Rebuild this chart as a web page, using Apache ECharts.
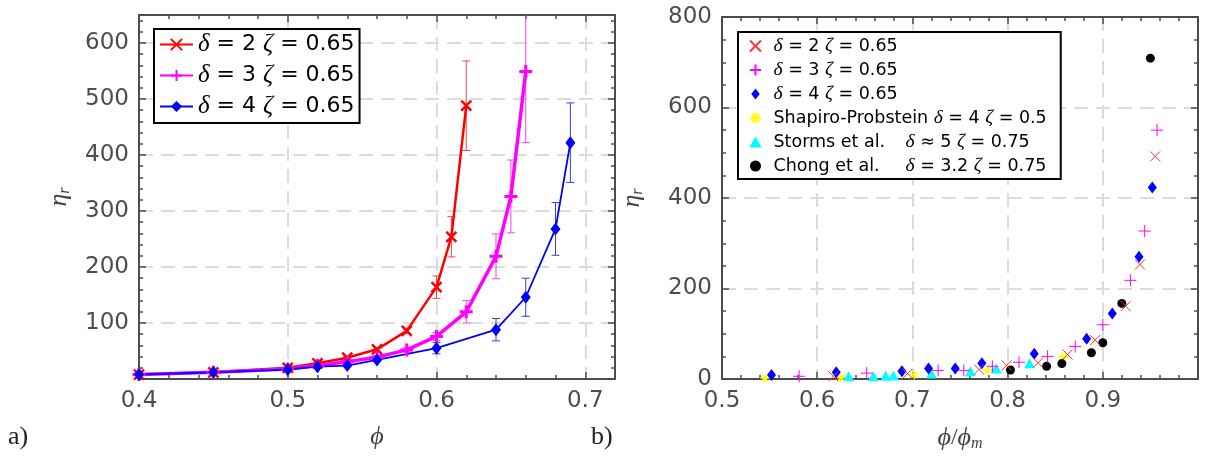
<!DOCTYPE html>
<html><head><meta charset="utf-8">
<script src="https://cdn.jsdelivr.net/npm/echarts@6/dist/echarts.min.js"></script>
<style>html,body{margin:0;padding:0;background:#fff}#c{width:1205px;height:458px}</style>
</head><body><div id="c"></div>
<script>
// ---------- Panel a) data : eta_r vs phi ----------
const phiA2 = [0.40, 0.45, 0.50, 0.52, 0.54, 0.56, 0.58, 0.60, 0.61, 0.62];
const etaA2 = [8, 12, 20, 28, 38, 53, 86, 164, 254, 488];
const errA2 = [0, 0, 1, 1, 2, 3, 5, 20, 36, 80];

const phiA3 = [0.40, 0.45, 0.50, 0.52, 0.54, 0.56, 0.58, 0.60, 0.62, 0.64, 0.65, 0.66];
const etaA3 = [8, 12, 18, 24, 31, 39, 52, 76, 120, 219, 326, 549];
const errA3 = [0, 0, 1, 1, 2, 3, 4, 7, 20, 40, 65, 127];

const phiA4 = [0.40, 0.45, 0.50, 0.52, 0.54, 0.56, 0.60, 0.64, 0.66, 0.68, 0.69];
const etaA4 = [8, 12, 17, 22, 24, 34, 55, 88, 146, 268, 422];
const errA4 = [0, 0, 1, 1, 2, 3, 10, 20, 34, 47, 71];

// ---------- Panel b) data : eta_r vs phi/phi_m ----------
const xB2 = [0.617, 0.695, 0.770, 0.799, 0.832, 0.863, 0.892, 0.924, 0.939, 0.955];
const yB2 = [6, 12, 21, 30, 36, 54, 86, 161, 253, 492];
const xB3 = [0.581, 0.652, 0.727, 0.754, 0.784, 0.812, 0.842, 0.871, 0.900, 0.929, 0.944, 0.957];
const yB3 = [6, 13, 19, 19, 28, 37, 50, 72, 120, 218, 327, 550];
const xB4 = [0.552, 0.620, 0.689, 0.717, 0.745, 0.773, 0.828, 0.883, 0.910, 0.938, 0.952];
const yB4 = [9, 15, 17, 23, 23, 35, 56, 89, 145, 270, 423];
const xSP = [0.545, 0.625, 0.702, 0.779, 0.858];
const ySP = [2, 3, 9, 19, 49];
const xST = [0.633, 0.659, 0.672, 0.680, 0.720, 0.761, 0.788, 0.823];
const yST = [6, 6, 7, 8, 12, 17, 23, 35];
const xCH = [0.803, 0.841, 0.857, 0.888, 0.900, 0.920, 0.950];
const yCH = [20, 28, 34, 58, 80, 167, 709];

// ---------- texts ----------
const legendText = {
  A2: '{g|δ} = 2 {g|ζ} = 0.65',
  A3: '{g|δ} = 3 {g|ζ} = 0.65',
  A4: '{g|δ} = 4 {g|ζ} = 0.65',
  B2: '{g|δ} = 2 {g|ζ} = 0.65',
  B3: '{g|δ} = 3 {g|ζ} = 0.65',
  B4: '{g|δ} = 4 {g|ζ} = 0.65',
  SP: 'Shapiro-Probstein {g|δ} = 4 {g|ζ} = 0.5',
  ST: '{a|Storms et al.}{g|δ} ≈ 5 {g|ζ} = 0.75',
  CH: '{a|Chong et al.}{g|δ} = 3.2 {g|ζ} = 0.75'
};

const AX = '#4d4d4d';
const GRIDC = '#dcdcdc';
const pairs = (xs, ys) => xs.map((x, i) => [x, ys[i]]);

function axisSet(dim, gi, min, max, major, minor, opts) {
  const pos = dim === 'x' ? ['bottom', 'top'] : ['left', 'right'];
  const common = { type: 'value', gridIndex: gi, min: min, max: max };
  const line = { show: true, onZero: false, lineStyle: { color: AX, width: 2 } };
  const noLine = { show: false, onZero: false };
  const tMaj = { show: true, inside: true, length: 7, lineStyle: { color: AX, width: 1.5 } };
  const tMin = { show: true, inside: true, length: 4, lineStyle: { color: AX, width: 1.5 } };
  const off = { show: false };
  return [
    Object.assign({}, common, {
      position: pos[0], interval: major, axisLine: line, axisTick: tMaj,
      axisLabel: Object.assign({ show: true, color: AX, fontFamily: 'DejaVu Sans', fontSize: 23, margin: dim === 'x' ? 11 : 10 }, opts.label),
      splitLine: { show: true, lineStyle: { color: GRIDC, width: 2, type: [14, 8] } },
      name: opts.name, nameLocation: 'middle', nameGap: opts.nameGap, nameTextStyle: opts.nameStyle
    }),
    Object.assign({}, common, { position: pos[0], interval: minor, axisLine: noLine, axisTick: tMin, axisLabel: off, splitLine: off }),
    Object.assign({}, common, { position: pos[1], interval: major, axisLine: line, axisTick: tMaj, axisLabel: off, splitLine: off }),
    Object.assign({}, common, { position: pos[1], interval: minor, axisLine: noLine, axisTick: tMin, axisLabel: off, splitLine: off })
  ];
}

const serifRich = {
  e: { fontFamily: 'Liberation Serif', fontStyle: 'italic', fontSize: 26, color: '#444' },
  s: { fontFamily: 'Liberation Serif', fontStyle: 'italic', fontSize: 16, color: '#444', padding: [12, 0, 0, 0] },
  n: { fontFamily: 'Liberation Serif', fontSize: 24, color: '#444' }
};
const nameStyle = { rich: serifRich };

const xAxes = [].concat(
  axisSet('x', 0, 0.4, 0.72, 0.1, 0.02, { label: { showMaxLabel: false }, name: '{e|ϕ}', nameGap: 45, nameStyle }),
  axisSet('x', 1, 0.5, 1.0, 0.1, 0.02, { label: { showMaxLabel: false }, name: '{e|ϕ}{n|/}{e|ϕ}{s|m}', nameGap: 45, nameStyle })
);
const yAxes = [].concat(
  axisSet('y', 0, 0, 650, 100, 20, { label: { showMinLabel: false, showMaxLabel: false }, name: '{e|η}{s|r}', nameGap: 66, nameStyle }),
  axisSet('y', 1, 0, 800, 200, 50, { label: {}, name: '{e|η}{s|r}', nameGap: 76, nameStyle })
);

const P_X = 'path://M0,0L10,10M10,0L0,10';
const P_PLUS = 'path://M5,0L5,10M0,5L10,5';
const P_STAR = 'path://M0,5L10,5M5,0L5,10M1.5,1.5L8.5,8.5M8.5,1.5L1.5,8.5';
const P_DIAM = 'path://M5,0L10,6.5L5,13L0,6.5Z';
const P_TRI = 'path://M5,0L10,9L0,9Z';

function lineSeries(name, xs, ys, color, symbol, size, lw, bw) {
  return {
    type: 'line', name: name, xAxisIndex: 0, yAxisIndex: 0, data: pairs(xs, ys),
    symbol: symbol, symbolSize: size, showAllSymbol: true,
    lineStyle: { color: color, width: lw },
    itemStyle: { color: color, borderColor: color, borderWidth: bw },
    z: 5, animation: false
  };
}
function errSeries(xs, ys, es, color) {
  const data = [];
  xs.forEach((x, i) => { if (es[i] > 0) data.push([x, ys[i] - es[i], ys[i] + es[i]]); });
  return {
    type: 'custom', xAxisIndex: 0, yAxisIndex: 0, data: data, clip: true, z: 4, animation: false,
    encode: { x: 0, y: [1, 2] },
    renderItem: function (params, api) {
      const x = api.value(0);
      const lo = api.coord([x, api.value(1)]);
      const hi = api.coord([x, api.value(2)]);
      const w = 4;
      const st = { stroke: color, lineWidth: 1 };
      return { type: 'group', children: [
        { type: 'line', shape: { x1: lo[0], y1: lo[1], x2: hi[0], y2: hi[1] }, style: st },
        { type: 'line', shape: { x1: lo[0] - w, y1: lo[1], x2: lo[0] + w, y2: lo[1] }, style: st },
        { type: 'line', shape: { x1: hi[0] - w, y1: hi[1], x2: hi[0] + w, y2: hi[1] }, style: st }
      ] };
    }
  };
}
function scatter(name, xs, ys, symbol, size, fill, stroke, bw, z) {
  return {
    type: 'scatter', name: name, xAxisIndex: 4, yAxisIndex: 4, data: pairs(xs, ys),
    symbol: symbol, symbolSize: size,
    itemStyle: { color: fill, borderColor: stroke, borderWidth: bw, opacity: 1 },
    z: z, animation: false
  };
}

const series = [
  errSeries(phiA2, etaA2, errA2, '#e84a4a'),
  errSeries(phiA3, etaA3, errA3, '#f040f0'),
  errSeries(phiA4, etaA4, errA4, '#3a3ae0'),
  lineSeries('A2', phiA2, etaA2, '#ff0000', P_X, 10, 2.5, 2.5),
  lineSeries('A3', phiA3, etaA3, '#ff00ff', P_PLUS, 13, 3.5, 3),
  lineSeries('A4', phiA4, etaA4, '#0000ff', 'diamond', [10, 13], 1.8, 0),
  scatter('ST', xST, yST, P_TRI, [11, 10], '#00ffff', '#00ffff', 0, 3),
  scatter('SP', xSP, ySP, P_STAR, 9, '#ffff00', '#ffff00', 1.2, 4),
  scatter('CH', xCH, yCH, 'circle', 9, '#000000', '#000000', 0, 5),
  scatter('B4', xB4, yB4, P_DIAM, [9, 12], '#0000ff', '#0000ff', 0, 6),
  scatter('B2', xB2, yB2, P_X, 10, '#ff3333', '#ff3333', 1, 7),
  scatter('B3', xB3, yB3, P_PLUS, 12, '#ff00ff', '#ff00ff', 1, 8)
];

const chart = echarts.init(document.getElementById('c'), null, { renderer: 'canvas' });
chart.setOption({
  animation: false,
  backgroundColor: '#ffffff',
  grid: [
    { left: 139, top: 15, width: 476, height: 364, containLabel: false, outerBoundsMode: 'none' },
    { left: 722, top: 17, width: 476, height: 362, containLabel: false, outerBoundsMode: 'none' }
  ],
  xAxis: xAxes,
  yAxis: yAxes,
  legend: [
    {
      data: ['A2', 'A3', 'A4'], orient: 'vertical', left: 154, top: 29, selectedMode: false,
      backgroundColor: '#fff', borderColor: '#000', borderWidth: 2, borderRadius: 0,
      padding: [3, 5, 4, 5], itemGap: 6, itemWidth: 33, itemHeight: 14,
      formatter: n => legendText[n],
      textStyle: { fontFamily: 'DejaVu Sans', fontSize: 22, color: '#000', lineHeight: 22,
        rich: { g: { fontFamily: 'Liberation Serif', fontStyle: 'italic', fontSize: 25, color: '#000' } } }
    },
    {
      data: ['B2', 'B3', 'B4', 'SP', 'ST', 'CH'], orient: 'vertical', left: 738, top: 32, selectedMode: false,
      backgroundColor: '#fff', borderColor: '#000', borderWidth: 2, borderRadius: 0,
      padding: [4, 14, 3, 11], itemGap: 4, itemWidth: 26, itemHeight: 11, symbolKeepAspect: true,
      formatter: n => legendText[n],
      textStyle: { fontFamily: 'DejaVu Sans', fontSize: 17.5, color: '#000', lineHeight: 18,
        rich: { g: { fontFamily: 'Liberation Serif', fontStyle: 'italic', fontSize: 19.5, color: '#000' },
                a: { width: 132 } } }
    }
  ],
  graphic: [
    { type: 'text', left: 8, top: 424, style: { text: 'a)', font: '26px "Liberation Serif"', fill: '#222' } },
    { type: 'text', left: 591, top: 424, style: { text: 'b)', font: '26px "Liberation Serif"', fill: '#222' } }
  ],
  series: series
});
</script></body></html>
